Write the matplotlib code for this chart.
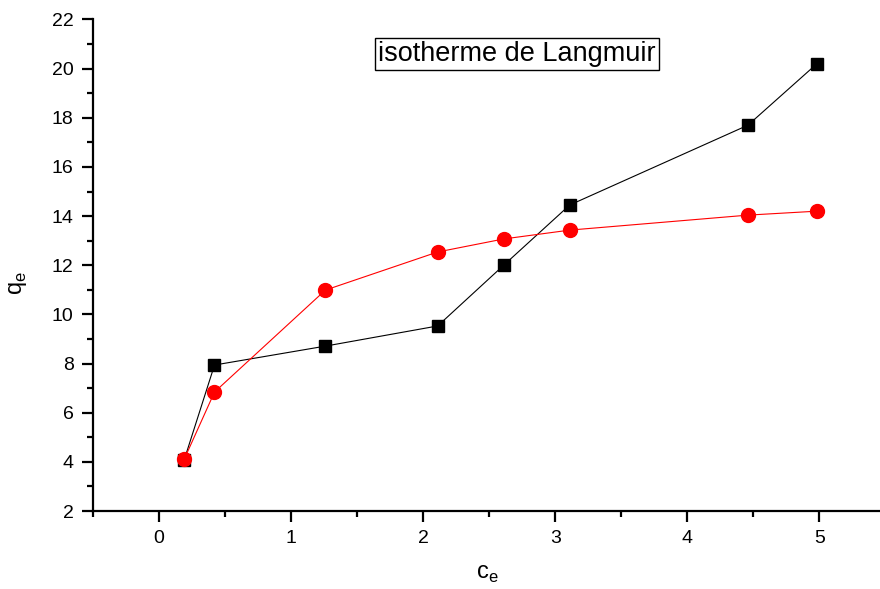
import numpy as np
import matplotlib.pyplot as plt
from matplotlib.ticker import MultipleLocator

plt.rcParams['font.family'] = ['Liberation Sans', 'DejaVu Sans']

ce_black = [0.19, 0.42, 1.26, 2.11, 2.61, 3.11, 4.46, 4.98]
qe_black = [4.07, 7.94, 8.71, 9.53, 12.0, 14.45, 17.7, 20.19]
ce_red = [0.19, 0.42, 1.26, 2.11, 2.61, 3.11, 4.46, 4.98]
qe_red = [4.1, 6.84, 10.99, 12.54, 13.07, 13.43, 14.04, 14.2]

fig = plt.figure(figsize=(8.8, 5.89), dpi=100)
ax = fig.add_axes([0.1057, 0.1324, 0.8943, 0.8345])

ax.plot(ce_black, qe_black, color='black', lw=0.8, marker='s', ms=9,
        mec='black', mfc='black')
ax.plot(ce_red, qe_red, color='red', lw=0.8, marker='o', ms=10,
        mec='red', mfc='red')

ax.set_xlim(-0.5, 5.46)
ax.set_ylim(2, 22)
ax.xaxis.set_major_locator(MultipleLocator(1))
ax.xaxis.set_minor_locator(MultipleLocator(0.5))
ax.yaxis.set_major_locator(MultipleLocator(2))
ax.yaxis.set_minor_locator(MultipleLocator(1))

for s in ['top', 'right']:
    ax.spines[s].set_visible(False)
for s in ['left', 'bottom']:
    ax.spines[s].set_linewidth(1.6)

ax.tick_params(which='major', direction='out', length=8, width=1.6,
               labelsize=14, pad=6)
ax.tick_params(which='minor', direction='out', length=4.5, width=1.6)

ax.set_xlabel('c$_\\mathregular{e}$', fontsize=17)
ax.set_ylabel('q$_\\mathregular{e}$', fontsize=17)
ax.xaxis.set_label_coords(0.5006, -0.128)
ax.yaxis.set_label_coords(-0.095, 0.464)
ax.xaxis.label.set_va('center')
ax.yaxis.label.set_va('center')

ax.text(0.5875, 0.908, 'isotherme de Langmuir', transform=fig.transFigure,
        fontsize=19.5, ha='center', va='center',
        bbox=dict(boxstyle='square,pad=0.1', fc='white', ec='black', lw=1))

plt.savefig('out.png', dpi=100)
plt.close()
